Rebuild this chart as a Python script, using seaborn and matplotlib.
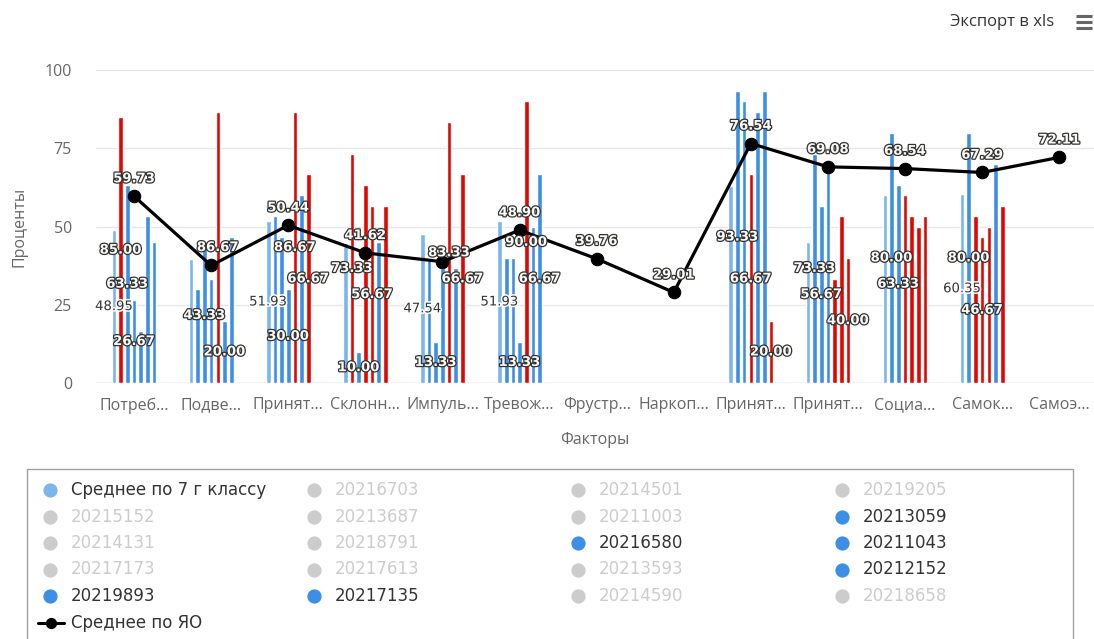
import numpy as np
import pandas as pd
import seaborn as sns
import matplotlib.pyplot as plt
import matplotlib.patheffects as pe
from matplotlib.patches import Rectangle

# ---- data ----
factor_labels = ["Потреб…", "Подве…", "Принят…", "Склонн…", "Импуль…", "Тревож…",
                 "Фрустр…", "Наркоп…", "Принят…", "Принят…", "Социа…", "Самок…", "Самоэ…"]

bar_series = ["Среднее по 7 г классу", "20213059", "20216580", "20211043",
              "20212152", "20219893", "20217135"]

nan = np.nan
class_avg = [48.95, 39.60, 51.93, 44.70, 47.54, 51.93, nan, nan, 63.00, 45.00, 60.00, 60.35, nan]
s_20213059 = [85.00, 30.00, 53.33, 73.33, 40.00, 40.00, nan, nan, 93.33, 73.33, 80.00, 80.00, nan]
s_20216580 = [63.33, 43.33, 46.67, 10.00, 13.33, 40.00, nan, nan, 90.00, 56.67, 63.33, 53.33, nan]
s_20211043 = [26.67, 33.33, 30.00, 63.33, 36.67, 13.33, nan, nan, 66.67, 70.00, 60.00, 46.67, nan]
s_20212152 = [16.67, 86.67, 86.67, 56.67, 83.33, 90.00, nan, nan, 86.67, 33.33, 53.33, 50.00, nan]
s_20219893 = [53.33, 20.00, 60.00, 45.00, 36.67, 50.00, nan, nan, 93.33, 53.33, 50.00, 70.00, nan]
s_20217135 = [45.00, 46.67, 66.67, 56.67, 66.67, 66.67, nan, nan, 20.00, 40.00, 53.33, 56.67, nan]

region_avg = [59.73, 37.60, 50.44, 41.62, 38.80, 48.90, 39.76, 29.01, 76.54, 69.08, 68.54, 67.29, 72.11]

# 1 = value falls in the risk zone (drawn red)
risk_avg = [0] * 13
risk_20213059 = [1, 0, 0, 1, 0, 0, 0, 0, 0, 0, 0, 0, 0]
risk_20216580 = [0, 0, 0, 0, 0, 0, 0, 0, 0, 0, 0, 1, 0]
risk_20211043 = [0, 0, 0, 1, 0, 0, 0, 0, 1, 0, 1, 1, 0]
risk_20212152 = [0, 1, 1, 1, 1, 1, 0, 0, 0, 1, 1, 1, 0]
risk_20219893 = [0, 0, 0, 0, 0, 0, 0, 0, 0, 1, 1, 0, 0]
risk_20217135 = [0, 0, 1, 1, 1, 0, 0, 0, 1, 1, 1, 1, 0]

# data labels that are visible on the chart: (factor index, series index)
shown_bar_labels = [(0, 0), (0, 1), (0, 2), (0, 3),
                    (1, 2), (1, 4), (1, 5),
                    (2, 0), (2, 3), (2, 4), (2, 6),
                    (3, 1), (3, 2), (3, 4),
                    (4, 0), (4, 2), (4, 4), (4, 6),
                    (5, 0), (5, 3), (5, 4), (5, 6),
                    (8, 1), (8, 3), (8, 6),
                    (9, 1), (9, 2), (9, 6),
                    (10, 1), (10, 2),
                    (11, 0), (11, 1), (11, 3)]
hidden_line_labels = [1, 4]

legend_names = ["Среднее по 7 г классу", "20216703", "20214501", "20219205",
                "20215152", "20213687", "20211003", "20213059",
                "20214131", "20218791", "20216580", "20211043",
                "20217173", "20217613", "20213593", "20212152",
                "20219893", "20217135", "20214590", "20218658"]

series_values = [class_avg, s_20213059, s_20216580, s_20211043,
                 s_20212152, s_20219893, s_20217135]
risk_flags = [risk_avg, risk_20213059, risk_20216580, risk_20211043,
              risk_20212152, risk_20219893, risk_20217135]

# ---- styling ----
AVG_COLOR = "#7cb5ec"
STUDENT_COLOR = "#3d8fe6"
RISK_COLOR = "#e10600"
HIDDEN_COLOR = "#cccccc"
W, H = 1094, 639

sns.set_theme(style="white")
plt.rcParams["font.family"] = ["Open Sans", "DejaVu Sans"]

rows = []
for name, vals in zip(bar_series, series_values):
    for i, v in enumerate(vals):
        rows.append({"factor": i, "series": name, "value": v})
df = pd.DataFrame(rows).dropna()

palette = {name: (AVG_COLOR if k == 0 else STUDENT_COLOR) for k, name in enumerate(bar_series)}

fig = plt.figure(figsize=(W / 100, H / 100), dpi=100)
ax_left, ax_right, ax_top, ax_bottom = 95.5, 1094, 70, 383.3
ax = fig.add_axes([ax_left / W, 1 - ax_bottom / H, (ax_right - ax_left) / W, (ax_bottom - ax_top) / H])

sns.barplot(data=df, x="factor", y="value", hue="series", order=list(range(13)),
            hue_order=bar_series, palette=palette, width=0.608, gap=0.3,
            saturation=1, errorbar=None, legend=False, ax=ax, zorder=2)

outline_dark = [pe.withStroke(linewidth=1.8, foreground="#333333")]
outline_light = [pe.withStroke(linewidth=2.2, foreground="white")]

for j, container in enumerate(ax.containers):
    for patch in container.patches:
        xc = patch.get_x() + patch.get_width() / 2
        cat = int(round(xc))
        h = patch.get_height()
        if risk_flags[j][cat]:
            patch.set_facecolor(RISK_COLOR)
        if (cat, j) in shown_bar_labels:
            if j == 0:
                ax.text(xc, h / 2, f"{h:.2f}", ha="center", va="center", fontsize=9.5,
                        family="DejaVu Sans", color="#333333", path_effects=outline_light, zorder=6)
            else:
                ax.text(xc, h / 2, f"{h:.2f}", ha="center", va="center", fontsize=9.5,
                        family="DejaVu Sans", fontweight="bold", color="#fbfbf5",
                        path_effects=outline_dark, zorder=6)

sns.lineplot(x=np.arange(13), y=region_avg, ax=ax, color="black", lw=2.3, marker="o",
             markersize=9, markeredgecolor="black", sort=False, legend=False, zorder=5)

for i, v in enumerate(region_avg):
    if i in hidden_line_labels:
        continue
    ax.annotate(f"{v:.2f}", (i, v), xytext=(0, 12.5), textcoords="offset points",
                ha="center", va="center", fontsize=9.5, family="DejaVu Sans", fontweight="bold",
                color="#fbfbf5", path_effects=outline_dark, zorder=7)

ax.set_xlim(-0.5, -0.5 + (ax_right - ax_left) / 77.1)
ax.set_ylim(0, 100)
ax.set_yticks([0, 25, 50, 75, 100])
ax.set_xticks(range(13), factor_labels)
ax.grid(axis="y", color="#e6e6e6", lw=1, zorder=0)
ax.grid(axis="x", visible=False)
for s in ax.spines.values():
    s.set_visible(False)
ax.axhline(0, color="#ccd6eb", lw=1, zorder=1)
ax.tick_params(axis="y", length=0, pad=17, labelsize=11.5, labelcolor="#666666")
ax.tick_params(axis="x", length=0, pad=10, labelsize=11.5, labelcolor="#666666")
ax.set_xlabel("Факторы", fontsize=11.5, color="#666666", labelpad=13)
ax.set_ylabel("Проценты", fontsize=11.5, color="#666666", labelpad=12)

# ---- header and legend drawn in pixel coordinates ----
lax = fig.add_axes([0, 0, 1, 1])
lax.set_xlim(0, W)
lax.set_ylim(H, 0)
lax.axis("off")

lax.text(1054, 22, "Экспорт в xls", ha="right", va="center", fontsize=12, color="#333333")
for yy in (16, 22, 28):
    lax.plot([1076, 1092], [yy, yy], color="#666666", lw=2.2, solid_capstyle="butt")

lax.add_patch(Rectangle((27, 469), 1046, 190, fill=False, edgecolor="#a0a0a0", lw=1))
for k, name in enumerate(legend_names):
    row, col = divmod(k, 4)
    x = 50 + col * 264
    y = 490 + row * 26.5
    if name in bar_series:
        mcolor = AVG_COLOR if name == bar_series[0] else STUDENT_COLOR
        tcolor = "#333333"
    else:
        mcolor = HIDDEN_COLOR
        tcolor = HIDDEN_COLOR
    lax.scatter([x], [y], s=105, color=mcolor, linewidths=0)
    lax.text(x + 21, y, name, ha="left", va="center", fontsize=12,
             family="DejaVu Sans", color=tcolor)

y_last = 490 + 5 * 26.5
lax.plot([38, 64], [y_last, y_last], color="black", lw=2.2)
lax.scatter([51], [y_last], s=50, color="black", zorder=3)
lax.text(71, y_last, "Среднее по ЯО", ha="left", va="center", fontsize=12,
         family="DejaVu Sans", color="#333333")

fig.savefig("out.png", dpi=100)
